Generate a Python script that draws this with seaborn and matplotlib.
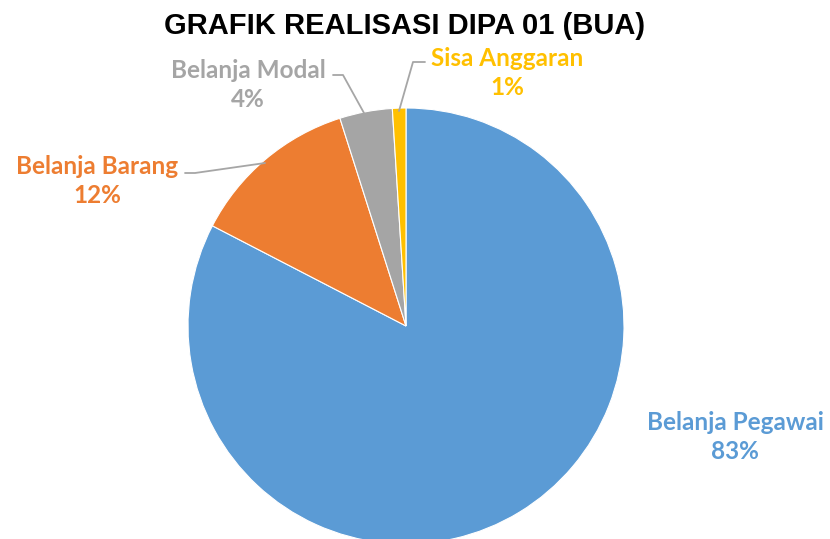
import matplotlib
matplotlib.use("Agg")
import matplotlib.pyplot as plt
import seaborn as sns

# data
kategori = ["Belanja Pegawai", "Belanja Barang", "Belanja Modal", "Sisa Anggaran"]
nilai    = [82.6, 12.5, 3.9, 1.0]
persen   = ["83%", "12%", "4%", "1%"]
warna    = ["#5B9BD5", "#ED7D31", "#A5A5A5", "#FFC000"]

sns.set_theme(style="white")
plt.rcParams['font.family'] = ['Lato', 'DejaVu Sans']

W, H = 830, 539
fig = plt.figure(figsize=(W / 100, H / 100), dpi=100)
ax  = fig.add_axes([0, 0, 1, 1])

cx, cy, r = 406, H - 326, 218
ax.pie(nilai, colors=warna, startangle=90, counterclock=False,
       center=(cx, cy), radius=r, frame=True,
       wedgeprops=dict(edgecolor="white", linewidth=0.8))
ax.set_xlim(0, W)
ax.set_ylim(0, H)
ax.set_aspect("equal")
ax.axis("off")

# label positions (pixel, from top)
pos_label = {
    "Belanja Pegawai": (735, 437),
    "Belanja Barang":  (97, 181),
    "Belanja Modal":   (248, 85),
    "Sisa Anggaran":   (507, 73),
}
for k, p, c in zip(kategori, persen, warna):
    x, y = pos_label[k]
    ax.text(x, H - y, f"{k}\n{p}", color=c, ha="center", va="center",
            fontsize=17.5, fontweight="bold", linespacing=1.3)

# leader lines
garis = [
    [(185, 173), (195, 173), (265, 163)],
    [(333, 75), (343, 75), (364, 113)],
    [(425, 62), (413, 62), (399, 111)],
]
for g in garis:
    ax.plot([a for a, b in g], [H - b for a, b in g], color="#A6A6A6", lw=1.3)

fig.text(405 / W, 1 - 26 / H, "GRAFIK REALISASI DIPA 01 (BUA)", ha="center", va="center",
         fontsize=21, fontweight="bold", family="Liberation Sans", color="black")

fig.savefig("out.png", dpi=100)
